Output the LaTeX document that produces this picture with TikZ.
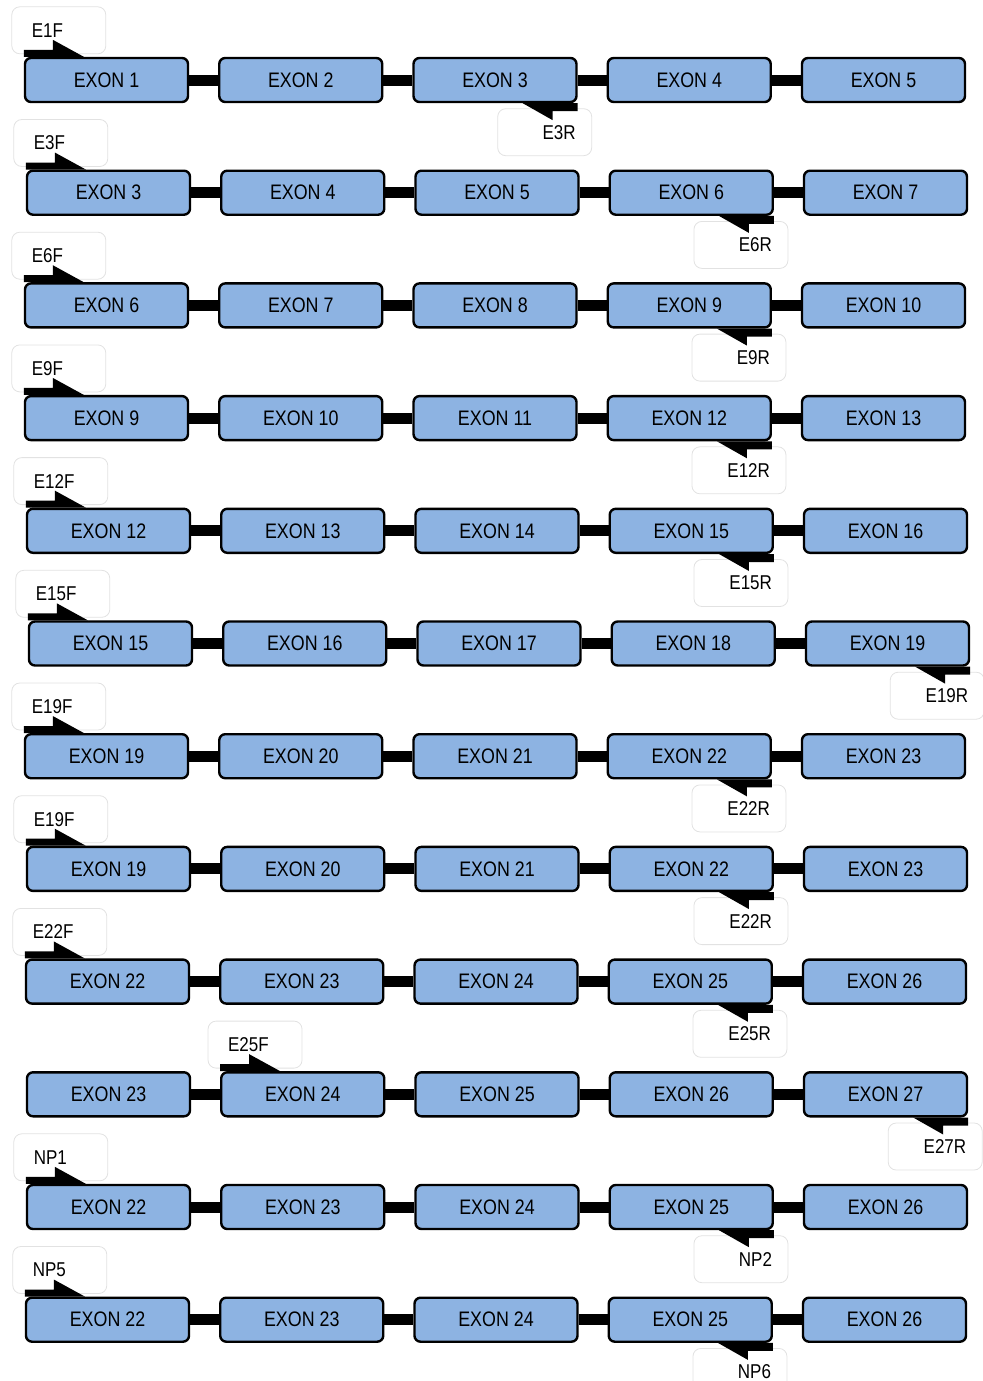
\documentclass[tikz,border=0pt]{standalone}
\usepackage{fontspec}
\setmainfont{Liberation Sans}[FakeStretch=0.85]
\usetikzlibrary{calc}
\definecolor{ExonBlue}{HTML}{8DB3E2}
\definecolor{FrameGray}{HTML}{E2E2E2}

\begin{document}
\begin{tikzpicture}[x=0.5pt, y=-0.5pt,
    exon/.style={draw=black, line width=1.2pt, rounded corners=3pt, fill=ExonBlue,
                 minimum width=81.5pt, minimum height=22pt, inner sep=0pt,
                 font=\fontsize{10.5}{12}\selectfont},
    link/.style={line width=5.5pt, black},
    tag/.style={draw=FrameGray, fill=white, rounded corners=4pt, minimum height=23.5pt,
                inner xsep=8pt, text width=31pt, font=\fontsize{10}{12}\selectfont},
    ftag/.style={tag, inner xsep=10pt, text width=27pt, align=left},
    rtag/.style={tag, align=right},
    primer/.style={fill=black}]
  \useasboundingbox (0,0) rectangle (982,1381);

  % row / shift / first exon / forward primer, its exon / reverse primer, its exon
  \foreach \r/\off/\a/\fl/\fx/\rl/\rx in {
      1/0/1/E1F/1/E3R/3,     2/2/3/E3F/1/E6R/4,     3/0/6/E6F/1/E9R/4,
      4/0/9/E9F/1/E12R/4,    5/2/12/E12F/1/E15R/4,  6/4/15/E15F/1/E19R/5,
      7/0/19/E19F/1/E22R/4,  8/2/19/E19F/1/E22R/4,  9/1/22/E22F/1/E25R/4,
      10/2/23/E25F/2/E27R/5, 11/2/22/NP1/1/NP2/4,   12/1/22/NP5/1/NP6/4}{
    \pgfmathsetmacro\ty{58+(\r-1)*112.7}

    % Exons
    \foreach \c in {1,...,5}{
      \pgfmathtruncatemacro\n{\a+\c-1}
      \node[exon] (e\r-\c) at ({\off+106.5+(\c-1)*194.25},{\ty+22}) {EXON \n};
    }
    \foreach \c [count=\p] in {2,...,5}
      \draw[link] (e\r-\p.east) -- (e\r-\c.west);

    % Forward primer
    \node[ftag] (f\r) at ($(e\r-\fx.north west)+(35,-26.5)$) {\fl};
    \fill[primer] (e\r-\fx.north west) -- ++(0,-7) -- ++(29,0) -- ++(0,-10) -- ++(31,17) -- cycle;

    % Reverse primer
    \node[rtag] (r\r) at ($(e\r-\rx.south east)+(-33,29)$) {\rl};
    \fill[primer] (e\r-\rx.south east) -- ++(0,8) -- ++(-25,0) -- ++(0,9) -- ++(-30,-17) -- cycle;
  }
\end{tikzpicture}
\end{document}
